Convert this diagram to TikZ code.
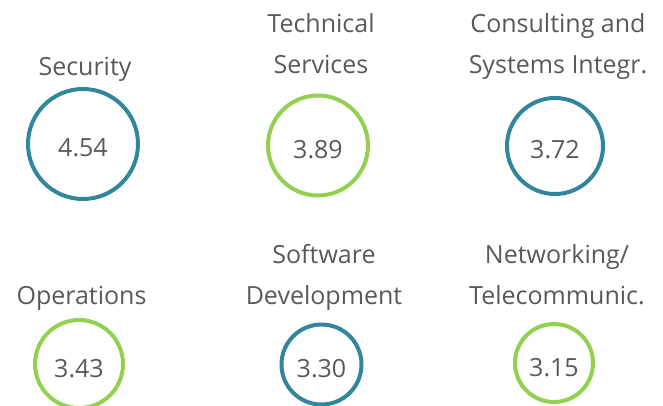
\documentclass[tikz,border=0pt]{standalone}
\usepackage{fontspec}
\setmainfont{Open Sans}
\usetikzlibrary{positioning}
\definecolor{ringblue}{HTML}{31859C}
\definecolor{ringgreen}{HTML}{92D050}
\definecolor{textgray}{HTML}{595959}

\begin{document}
\begin{tikzpicture}[x=1pt,y=-1pt,
ring/.style = {% score rings
    circle, draw, line width=4pt, inner sep=0pt,
    text=textgray, text height=26pt, text depth=0pt,
    font=\fontsize{25}{30}\selectfont,
              },
lbl/.style = {% category names
    align=center, anchor=south, inner sep=0pt, text depth=0pt,
    text=textgray, font=\fontsize{25}{41}\selectfont,
             },
                   ]
\useasboundingbox (0,0) rectangle (663,406);
\clip (0,0) rectangle (663,406);
% rings with scores
\foreach \nm/\cx/\cy/\dm/\cl/\val in
       {sec/83/144/110/ringblue/4.54,
        tech/318/145.5/100/ringgreen/3.89,
        cons/555/146/96/ringblue/3.72,
        ops/79/364/88/ringgreen/3.43,
        soft/321.5/364.5/80/ringblue/3.30,
        net/554/363/78/ringgreen/3.15}
  {\node[ring, draw=\cl, minimum size=\dm] (\nm) at (\cx,\cy) {\val};}
% names above rings
\node[lbl] (secname)  at (85,76)    {Security};
\node[lbl] (techname) at (321,74)   {Technical\\Services};
\node[lbl] (consname) at (558,74)   {Consulting and\\Systems Integr.};
\node[lbl] (opsname)  at (81.5,305) {Operations};
\node[lbl] (softname) at (324,305)  {Software\\Development};
\node[lbl] (netname)  at (557,305)  {Networking/\\Telecommunic.};
\end{tikzpicture}
\end{document}
